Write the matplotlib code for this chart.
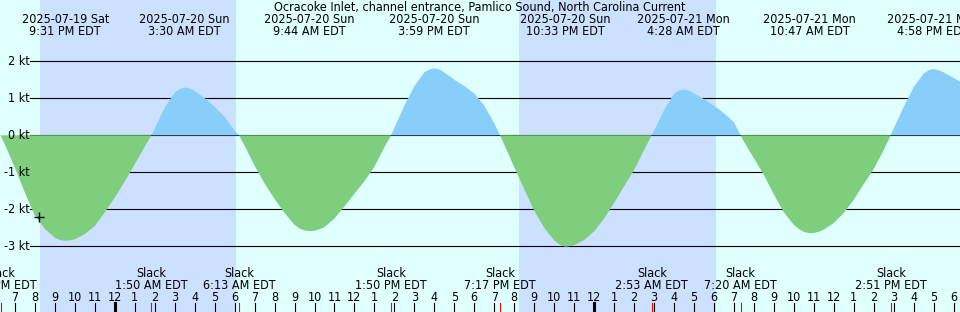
import matplotlib
matplotlib.use("Agg")
import matplotlib.pyplot as plt
import matplotlib.transforms as mtransforms
import numpy as np

plt.rcParams['font.family'] = ['DejaVu Sans']
plt.rcParams['font.stretch'] = 'condensed'

title = "Ocracoke Inlet, channel entrance, Pamlico Sound, North Carolina Current"

# time in hours relative to 2025-07-20 00:00 EDT, current speed in knots
hours = [-5.72, -5.5, -5.0, -4.5, -4.0, -3.5, -3.0, -2.75, -2.483, -2.25, -2.0, -1.5, -1.0, -0.5,
         0.0, 0.5, 1.0, 1.5, 1.833, 2.0, 2.5, 3.0, 3.25, 3.5, 3.75, 4.0, 4.5, 5.0, 5.5, 6.0, 6.217,
         6.5, 7.0, 7.5, 8.0, 8.5, 9.0, 9.25, 9.5, 9.733, 10.0, 10.25, 10.5, 11.0, 11.5, 12.0, 12.5,
         13.0, 13.5, 13.833, 14.0, 14.5, 15.0, 15.5, 15.75, 15.983, 16.25, 16.5, 17.0, 17.5, 18.0,
         18.5, 19.0, 19.283, 19.5, 20.0, 20.5, 21.0, 21.5, 22.0, 22.25, 22.55, 22.75, 23.0, 23.5,
         24.0, 24.5, 25.0, 25.5, 26.0, 26.5, 26.883, 27.0, 27.5, 28.0, 28.25, 28.467, 28.75, 29.0,
         29.5, 30.0, 30.5, 31.0, 31.333, 31.5, 32.0, 32.5, 33.0, 33.5, 34.0, 34.25, 34.5,
         34.783, 35.0, 35.25, 35.5, 36.0, 36.5, 37.0, 37.5, 38.0, 38.5, 38.85, 39.0, 39.5,
         40.0, 40.5, 40.75, 40.967, 41.25, 41.5, 42.0, 42.5]
speed = [0.0, -0.25, -0.88, -1.55, -2.17, -2.53, -2.77, -2.83, -2.85, -2.84, -2.81, -2.67, -2.45, -2.08,
         -1.68, -1.25, -0.78, -0.30, 0.0, 0.18, 0.75, 1.15, 1.25, 1.29, 1.27, 1.20, 1.01, 0.77, 0.50, 0.13, 0.0,
         -0.28, -0.82, -1.30, -1.72, -2.10, -2.42, -2.52, -2.57, -2.59, -2.58, -2.54, -2.48, -2.25, -1.92, -1.58, -1.24,
         -0.85, -0.32, 0.0, 0.20, 0.80, 1.33, 1.70, 1.78, 1.81, 1.78, 1.70, 1.50, 1.33, 1.13,
         0.80, 0.33, 0.0, -0.25, -0.86, -1.45, -2.04, -2.50, -2.84, -2.95, -3.01, -3.00, -2.97, -2.83,
         -2.60, -2.25, -1.83, -1.38, -0.94, -0.40, 0.0, 0.12, 0.68, 1.12, 1.21, 1.24, 1.21, 1.13,
         0.98, 0.80, 0.60, 0.35, 0.0, -0.17, -0.62, -1.07, -1.60, -2.08, -2.42, -2.53, -2.61,
         -2.65, -2.64, -2.61, -2.55, -2.37, -2.10, -1.74, -1.32, -0.91, -0.40, 0.0, 0.18, 0.77,
         1.30, 1.67, 1.76, 1.79, 1.76, 1.70, 1.55, 1.40]

max_hours = [-2.483, 3.5, 9.733, 15.983, 22.55, 28.467, 34.783, 40.967]
max_dates = ["2025-07-19 Sat", "2025-07-20 Sun", "2025-07-20 Sun", "2025-07-20 Sun",
             "2025-07-20 Sun", "2025-07-21 Mon", "2025-07-21 Mon", "2025-07-21 Mon"]
max_times = ["9:31 PM EDT", "3:30 AM EDT", "9:44 AM EDT", "3:59 PM EDT",
             "10:33 PM EDT", "4:28 AM EDT", "10:47 AM EDT", "4:58 PM EDT"]

slack_hours = [-5.72, 1.833, 6.217, 13.833, 19.283, 26.883, 31.333, 38.85]
slack_times = ["6:17 PM EDT", "1:50 AM EDT", "6:13 AM EDT", "1:50 PM EDT",
               "7:17 PM EDT", "2:53 AM EDT", "7:20 AM EDT", "2:51 PM EDT"]

night_start = [-3.745, 20.23]
night_end = [6.06, 30.09]

kt_levels = [2, 1, 0, -1, -2, -3]
hour_ticks = list(range(-5, 43))

now_hour = -3.82
now_speed = -2.2

DAY = "#e0ffff"
NIGHT = "#cce0ff"
FLOOD = "#87cefa"
EBB = "#7ece7e"
FS = 9.0

fig = plt.figure(figsize=(9.6, 3.12), dpi=100)
ax = fig.add_axes([0, 0, 1, 1])
ax.set_xlim(-5.748, 42.32)
ax.set_ylim(-4.776, 3.657)
ax.axis("off")
ax.add_patch(plt.Rectangle((0, 0), 1, 1, transform=ax.transAxes, color=DAY, zorder=0))
for s, e in zip(night_start, night_end):
    ax.axvspan(s, e, color=NIGHT, lw=0, zorder=0.5)

bx = mtransforms.blended_transform_factory(ax.transAxes, ax.transData)
by = mtransforms.blended_transform_factory(ax.transData, ax.transAxes)

for lv in kt_levels:
    ax.plot([30 / 960, 1], [lv, lv], transform=bx, color="black", lw=0.8, zorder=1)
    ax.text(29.5 / 960, lv, f"{lv} kt", transform=bx, ha="right", va="center",
            fontsize=FS, zorder=4)

h = np.array(hours)
v = np.array(speed)
ax.fill_between(h, v, 0, where=v >= 0, interpolate=True, color=FLOOD, lw=0, zorder=2)
ax.fill_between(h, v, 0, where=v <= 0, interpolate=True, color=EBB, lw=0, zorder=2)

ax.plot([now_hour], [now_speed], marker="+", color="black", ms=6.5, mew=1, zorder=5)

ax.text(0.5, 1 - 7.5 / 312, title, transform=ax.transAxes, ha="center", va="center",
        fontsize=FS, zorder=4)
for t, d, tm in zip(max_hours, max_dates, max_times):
    ax.text(t, 1 - 19.7 / 312, d, transform=by, ha="center", va="center", fontsize=FS, zorder=4)
    ax.text(t, 1 - 31.3 / 312, tm, transform=by, ha="center", va="center", fontsize=FS, zorder=4)

for t, tm in zip(slack_hours, slack_times):
    ax.text(t, 1 - 273.3 / 312, "Slack", transform=by, ha="center", va="center", fontsize=FS, zorder=4)
    ax.text(t, 1 - 285.3 / 312, tm, transform=by, ha="center", va="center", fontsize=FS, zorder=4)
    ax.plot([t, t], [0, 9 / 312], transform=by, color="red", lw=0.8, zorder=3)

for t in hour_ticks:
    hr = t % 12
    lab = "12" if hr == 0 else str(hr)
    lw = 2.2 if t % 24 == 0 else 0.8
    ax.plot([t, t], [0, 9 / 312], transform=by, color="black", lw=lw, zorder=3)
    ax.text(t, 1 - 297.3 / 312, lab, transform=by, ha="center", va="center", fontsize=FS, zorder=4)

fig.savefig("out.png", dpi=100)
